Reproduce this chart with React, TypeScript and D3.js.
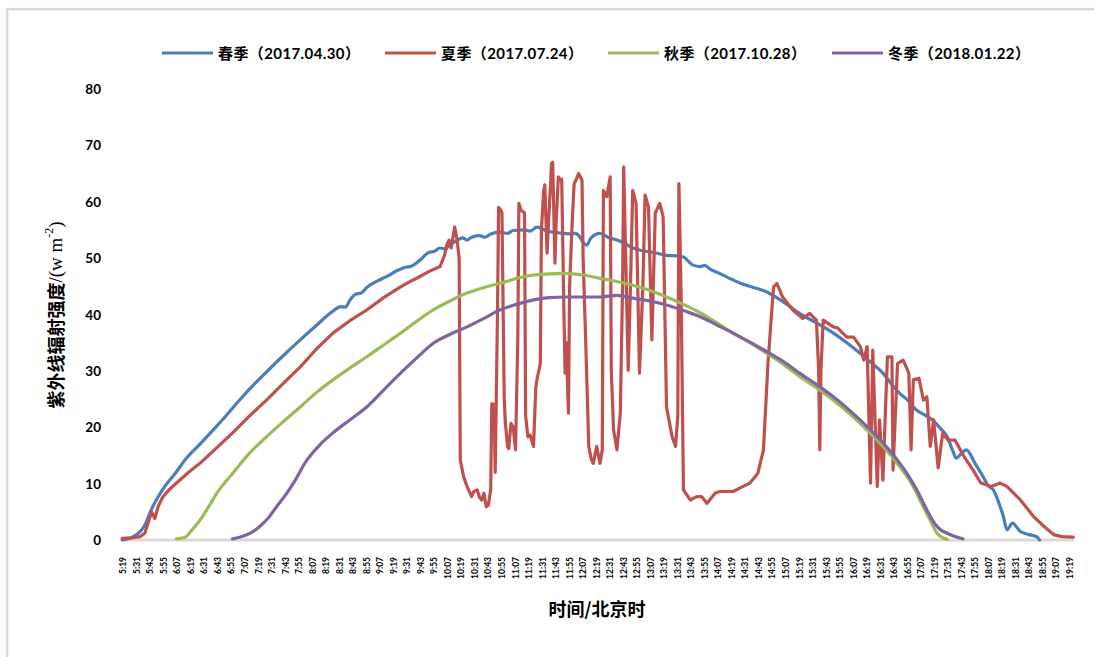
import React from "react";
import * as d3 from "d3";

const xTickLabels = ["5:19","5:31","5:43","5:55","6:07","6:19","6:31","6:43","6:55","7:07","7:19","7:31","7:43","7:55","8:07","8:19","8:31","8:43","8:55","9:07","9:19","9:31","9:43","9:55","10:07","10:19","10:31","10:43","10:55","11:07","11:19","11:31","11:43","11:55","12:07","12:19","12:31","12:43","12:55","13:07","13:19","13:31","13:43","13:55","14:07","14:19","14:31","14:43","14:55","15:07","15:19","15:31","15:43","15:55","16:07","16:19","16:31","16:43","16:55","17:07","17:19","17:31","17:43","17:55","18:07","18:19","18:31","18:43","18:55","19:07","19:19"];
const yTicks = [0, 10, 20, 30, 40, 50, 60, 70, 80];

const seriesNames = ["春季（2017.04.30）", "夏季（2017.07.24）", "秋季（2017.10.28）", "冬季（2018.01.22）"];
const seriesColors = ["#4A7EBB", "#C0504D", "#9BBB59", "#8064A2"];

const spring: [string, number][] = [
  ["5:18",0],["5:26",0.4],["5:34",1.5],["5:39",3],["5:43",5],["5:48",7],["5:54",9],["6:05",11.8],["6:15",14.5],["6:27",17],["6:40",19.8],["6:50",22],["7:02",24.8],["7:15",27.6],["7:28",30.2],["7:42",32.9],["7:56",35.5],["8:10",38],["8:25",40.6],["8:32",41.4],["8:36",41.3],["8:40",42.5],["8:45",43.6],["8:50",43.8],["8:55",44.8],["9:05",46],["9:15",47],["9:22",47.8],["9:28",48.3],["9:35",48.6],["9:42",49.6],["9:50",51],["9:55",51.2],["10:00",51.8],["10:05",51.6],["10:08",52.3],["10:14",53],["10:20",53.6],["10:24",53.2],["10:27",53.6],["10:35",54],["10:40",53.7],["10:45",54.3],["10:53",54.6],["11:00",54.4],["11:05",54.9],["11:15",55],["11:20",54.8],["11:26",55.5],["11:35",54.8],["11:45",54.5],["11:55",54.3],["12:00",54.4],["12:04",53.8],["12:07",52.8],["12:10",52.3],["12:14",53.6],["12:22",54.4],["12:30",53.6],["12:37",53.2],["12:44",52.6],["12:51",51.8],["13:00",51.3],["13:10",51],["13:21",50.5],["13:30",50.4],["13:36",50.2],["13:44",48.8],["13:51",48.5],["13:55",48.7],["14:00",48],["14:08",47.3],["14:17",46.4],["14:26",45.6],["14:38",44.8],["14:50",44],["15:05",42.2],["15:19",40.2],["15:34",38.5],["15:49",36.7],["16:01",35],["16:13",33.1],["16:23",31.4],["16:33",29.6],["16:40",27.8],["16:48",26],["16:55",24.8],["17:03",23],["17:10",22.2],["17:17",21.3],["17:24",19.8],["17:30",18.3],["17:35",15.8],["17:38",14.5],["17:42",15.2],["17:47",16],["17:55",13.5],["18:02",11.2],["18:07",9.5],["18:11",8.9],["18:16",6.5],["18:20",4.1],["18:23",1.8],["18:28",3],["18:32",2.2],["18:35",1.5],["18:42",1],["18:50",0.5],["18:52",0]
];

const summer: [string, number][] = [
  ["5:18",0.3],["5:28",0.4],["5:34",0.6],["5:38",1.2],["5:41",3],["5:44",5],["5:47",3.8],["5:50",6],["5:54",7.6],["6:00",9],["6:09",10.6],["6:18",12.2],["6:27",13.6],["6:42",16.4],["6:56",19],["7:11",22],["7:26",24.8],["7:41",27.8],["7:56",30.7],["8:10",33.8],["8:25",36.7],["8:40",38.9],["8:55",40.8],["9:10",43],["9:25",44.9],["9:33",45.8],["9:42",46.7],["9:50",47.6],["10:00",48.5],["10:04",50.5],["10:06",52.3],["10:08",53.2],["10:10",51.8],["10:13",55.5],["10:15",53.5],["10:17",50],["10:18",14.2],["10:21",11.2],["10:24",9.5],["10:28",7.7],["10:30",8.6],["10:33",8.9],["10:35",7.6],["10:37",7.1],["10:39",8.3],["10:41",5.9],["10:43",6.2],["10:45",9],["10:46",24.2],["10:48",24],["10:49",12],["10:51",40],["10:52",59],["10:54",58.5],["10:55",58],["10:57",25],["10:58",20.7],["11:00",16.6],["11:01",16.2],["11:03",20.7],["11:05",20],["11:07",16],["11:09",35],["11:10",59.7],["11:12",58.5],["11:15",58],["11:16",22],["11:18",18.3],["11:20",18.6],["11:23",16.6],["11:25",27],["11:26",28.4],["11:29",31.3],["11:30",55],["11:32",62],["11:33",63],["11:35",50.9],["11:36",55],["11:39",66.8],["11:40",67],["11:42",49.1],["11:43",56],["11:45",64.4],["11:47",63.8],["11:48",64],["11:50",40],["11:51",29.6],["11:52",35],["11:54",22.5],["11:55",45],["11:57",55],["11:59",63.2],["12:01",64],["12:03",65],["12:06",63.8],["12:07",50],["12:09",37.2],["12:12",16.6],["12:14",14.5],["12:16",13.6],["12:19",16.6],["12:22",13.6],["12:24",16],["12:25",62],["12:28",60.9],["12:31",64.4],["12:32",30],["12:34",19.5],["12:37",16],["12:40",22.5],["12:42",45],["12:43",66.2],["12:47",30.1],["12:49",45],["12:51",62],["12:54",59.7],["12:57",29.6],["13:00",45],["13:02",61.2],["13:05",59],["13:08",35.5],["13:11",58],["13:15",59.7],["13:18",57.3],["13:21",23.6],["13:26",18.3],["13:29",16.6],["13:31",22],["13:32",63.2],["13:34",43.1],["13:36",8.9],["13:42",7.1],["13:48",7.7],["13:52",7.7],["13:57",6.5],["14:04",8.3],["14:08",8.6],["14:20",8.6],["14:29",9.5],["14:35",10.1],["14:42",11.8],["14:47",16],["14:51",31.3],["14:54",39.6],["14:56",44.9],["14:59",45.5],["15:04",43.1],["15:13",40.8],["15:22",39.3],["15:28",40.2],["15:34",39],["15:36",30],["15:37",16],["15:38",30],["15:40",39],["15:49",37.8],["15:53",37.6],["16:01",36],["16:07",36],["16:13",34.3],["16:16",31.9],["16:19",34.3],["16:22",10.1],["16:24",33.7],["16:28",9.5],["16:30",21.3],["16:33",10.6],["16:37",32.5],["16:41",32.5],["16:42",12.4],["16:46",31.3],["16:51",31.9],["16:56",29.6],["16:58",16],["17:00",28.4],["17:05",28.7],["17:09",24.8],["17:12",25.4],["17:15",16.6],["17:18",21.3],["17:22",12.8],["17:26",18.9],["17:31",17.7],["17:37",17.7],["17:45",14.8],["17:53",12.4],["18:00",10.1],["18:09",9.5],["18:17",10.1],["18:23",9.5],["18:35",7.1],["18:47",4.1],["18:56",2.4],["19:05",0.9],["19:12",0.6],["19:22",0.5]
];

const autumn: [string, number][] = [
  ["6:06",0.2],["6:10",0.3],["6:14",0.5],["6:20",1.8],["6:27",3.5],["6:35",6],["6:42",8.3],["6:56",11.8],["7:11",15.4],["7:26",18.3],["7:41",21],["7:56",23.6],["8:10",26.1],["8:25",28.4],["8:40",30.5],["8:55",32.5],["9:10",34.6],["9:25",36.7],["9:40",38.9],["9:54",40.8],["10:09",42.4],["10:24",43.8],["10:39",44.8],["10:53",45.5],["11:08",46.4],["11:23",47],["11:37",47.2],["11:52",47.3],["12:07",47],["12:22",46.4],["12:36",45.9],["12:51",45.2],["13:06",44.3],["13:21",43.1],["13:36",41.8],["13:51",40.3],["14:05",38.6],["14:20",36.7],["14:35",35],["14:50",33.1],["15:05",31.1],["15:19",29],["15:34",27],["15:49",24.8],["16:04",22.3],["16:19",19.5],["16:34",16.4],["16:48",13],["16:56",10.8],["17:03",8.3],["17:09",5.8],["17:15",3.5],["17:21",1.2],["17:26",0.4],["17:30",0.1]
];

const winter: [string, number][] = [
  ["6:56",0.2],["7:02",0.5],["7:08",0.9],["7:14",1.5],["7:20",2.4],["7:28",4],["7:35",5.9],["7:43",8],["7:50",10.1],["8:02",14.2],["8:13",16.8],["8:25",19],["8:40",21.3],["8:55",23.6],["9:10",26.6],["9:25",29.6],["9:42",32.8],["9:54",34.9],["10:09",36.5],["10:24",37.8],["10:39",39.3],["10:53",40.8],["11:08",41.8],["11:23",42.6],["11:37",43],["11:52",43.1],["12:07",43.1],["12:22",43.1],["12:37",43.4],["12:51",42.9],["13:06",42.4],["13:21",41.7],["13:36",40.7],["13:51",39.6],["14:05",38.2],["14:20",36.7],["14:35",35.1],["14:50",33.4],["15:05",31.6],["15:19",29.6],["15:34",27.6],["15:49",25.4],["16:04",22.9],["16:19",20.1],["16:34",17],["16:48",13.6],["16:56",11.3],["17:03",8.9],["17:10",6.1],["17:17",3.5],["17:23",2],["17:30",1.2],["17:37",0.6],["17:44",0.2]
];

const seriesData = [spring, summer, autumn, winter];

const toMin = (s: string) => {
  const [h, m] = s.split(":").map(Number);
  return h * 60 + m;
};

export default function App() {
  const W = 1094, H = 657;
  const x = d3.scaleLinear().domain([toMin("5:19"), toMin("19:19")]).range([123.3, 1070]);
  const y = d3.scaleLinear().domain([0, 80]).range([540, 89]);
  const smooth = d3.line<[string, number]>()
    .x(d => x(toMin(d[0])))
    .y(d => y(d[1]))
    .curve(d3.curveMonotoneX);
  const straight = d3.line<[string, number]>()
    .x(d => x(toMin(d[0])))
    .y(d => y(d[1]));

  const legendX = [162, 385, 608, 832];
  const fontLatin = "Lato, 'Noto Sans CJK SC', sans-serif";

  return (
    <svg width={W} height={H} style={{ position: "absolute", left: 0, top: 0, background: "#fff" }}>
      <rect x={7.2} y={9.2} width={1200} height={800} fill="#fff" stroke="#D9D9D9" strokeWidth={2.5} />
      {/* legend */}
      {seriesNames.map((n, i) => (
        <g key={n}>
          <line x1={legendX[i]} x2={legendX[i] + 51} y1={53} y2={53} stroke={seriesColors[i]} strokeWidth={3} />
          <text x={legendX[i] + 56} y={53} dominantBaseline="central" fontFamily={fontLatin} fontWeight="bold" fontSize={15} letterSpacing={0.4} fill="#000">{n}</text>
        </g>
      ))}
      {/* y ticks */}
      {yTicks.map(t => (
        <text key={t} x={101} y={y(t)} textAnchor="end" dominantBaseline="central" fontFamily={fontLatin} fontWeight="bold" fontSize={13.5} fill="#000">{t}</text>
      ))}
      {/* y title */}
      <text transform="translate(55,315) rotate(-90)" textAnchor="middle" dominantBaseline="central" fill="#000">
        <tspan fontFamily="'Noto Sans CJK SC', sans-serif" fontWeight="bold" fontSize={18}>紫外线辐射强度</tspan>
        <tspan fontFamily="'Liberation Serif', serif" fontSize={19}>/(w m</tspan>
        <tspan fontFamily="'Liberation Serif', serif" fontSize={12} dy={-6}>-2</tspan>
        <tspan fontFamily="'Liberation Serif', serif" fontSize={19} dy={6}>)</tspan>
      </text>
      {/* x axis line */}
      <line x1={121} x2={1074} y1={540} y2={540} stroke="#D9D9D9" strokeWidth={3} />
      {/* x tick labels */}
      {xTickLabels.map(l => {
        const px = x(toMin(l));
        return (
          <text key={l} transform={`translate(${px},557) rotate(-90)`} textAnchor="end" dominantBaseline="central" fontFamily={fontLatin} fontWeight="bold" fontSize={8.5} fill="#000">{l}</text>
        );
      })}
      {/* x title */}
      <text x={597} y={608} textAnchor="middle" dominantBaseline="central" fontFamily="'Noto Sans CJK SC', sans-serif" fontWeight="bold" fontSize={18} fill="#000">时间/北京时</text>
      {/* series */}
      {seriesData.map((d, i) => (
        <path key={i} d={(i === 1 ? straight(d) : smooth(d)) || ""} fill="none" stroke={seriesColors[i]} strokeWidth={3.2} strokeLinejoin="round" strokeLinecap="round" />
      ))}
    </svg>
  );
}
